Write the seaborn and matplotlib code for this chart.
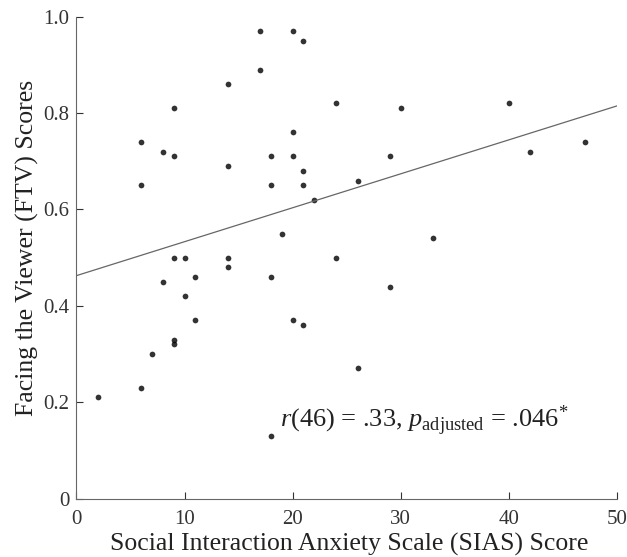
import numpy as np
import pandas as pd
import matplotlib
matplotlib.use("Agg")
import matplotlib.pyplot as plt
import seaborn as sns

# Data
SIAS = [17, 20, 21, 17, 14, 24, 9, 30, 40, 20, 6, 47, 8, 42, 9, 18, 20, 29, 14, 21,
        26, 6, 18, 21, 22, 19, 33, 9, 10, 14, 24, 14, 11, 18, 8, 29, 10, 11, 20, 21,
        9, 9, 7, 26, 6, 2, 18]
FTV = [0.97, 0.97, 0.95, 0.89, 0.86, 0.82, 0.81, 0.81, 0.82, 0.76, 0.74, 0.74, 0.72, 0.72,
       0.71, 0.71, 0.71, 0.71, 0.69, 0.68, 0.66, 0.65, 0.65, 0.65, 0.62, 0.55, 0.54, 0.50,
       0.50, 0.50, 0.50, 0.48, 0.46, 0.46, 0.45, 0.44, 0.42, 0.37, 0.37, 0.36, 0.33, 0.32,
       0.30, 0.27, 0.23, 0.21, 0.13]
X_TICKS = [0, 10, 20, 30, 40, 50]
Y_TICKS = [0, 0.2, 0.4, 0.6, 0.8, 1.0]
Y_TICK_LABELS = ["0", "0.2", "0.4", "0.6", "0.8", "1.0"]

df = pd.DataFrame({"SIAS": SIAS, "FTV": FTV})

sns.set_style("ticks")
plt.rcParams["font.family"] = ["Liberation Serif", "DejaVu Serif"]
plt.rcParams["mathtext.fontset"] = "custom"
plt.rcParams["mathtext.rm"] = "Liberation Serif"
plt.rcParams["mathtext.it"] = "Liberation Serif:italic"

fig = plt.figure(figsize=(6.27, 5.57), dpi=100)
ax = fig.add_axes([0.122, 0.105, 0.862, 0.865])
# limits first so the fitted line spans the full x range
ax.set_xlim(0, 50)
ax.set_ylim(0, 1.0)

sns.regplot(data=df, x="SIAS", y="FTV", ax=ax, ci=None, truncate=False,
            scatter_kws={"s": 17, "color": "black", "linewidths": 0},
            line_kws={"color": "#666666", "linewidth": 0.9})

ax.set_xlim(0, 50)
ax.set_ylim(0, 1.0)
ax.set_xticks(X_TICKS)
ax.set_yticks(Y_TICKS)
ax.set_yticklabels(Y_TICK_LABELS)
ax.tick_params(direction="in", length=5, labelsize=15, colors="#333333", width=0.8)
ax.tick_params(axis="x", pad=8)
ax.tick_params(axis="y", pad=5)
for side in ["top", "right"]:
    ax.spines[side].set_visible(False)
for side in ["left", "bottom"]:
    ax.spines[side].set_color("#666666")
    ax.spines[side].set_linewidth(0.8)

ax.set_xlabel("Social Interaction Anxiety Scale (SIAS) Score", fontsize=18.5, color="#222222")
ax.set_ylabel("Facing the Viewer (FTV) Scores", fontsize=18.5, color="#222222")
ax.xaxis.set_label_coords(0.505, -0.072)
ax.yaxis.set_label_coords(-0.069, 0.52)

ax.text(18.8, 0.162, r"$r$(46) = .33, $p_{\mathrm{adjusted}}$ = .046$^{*}$",
        fontsize=19, color="#222222", va="center")

fig.savefig("out.png", dpi=100)
